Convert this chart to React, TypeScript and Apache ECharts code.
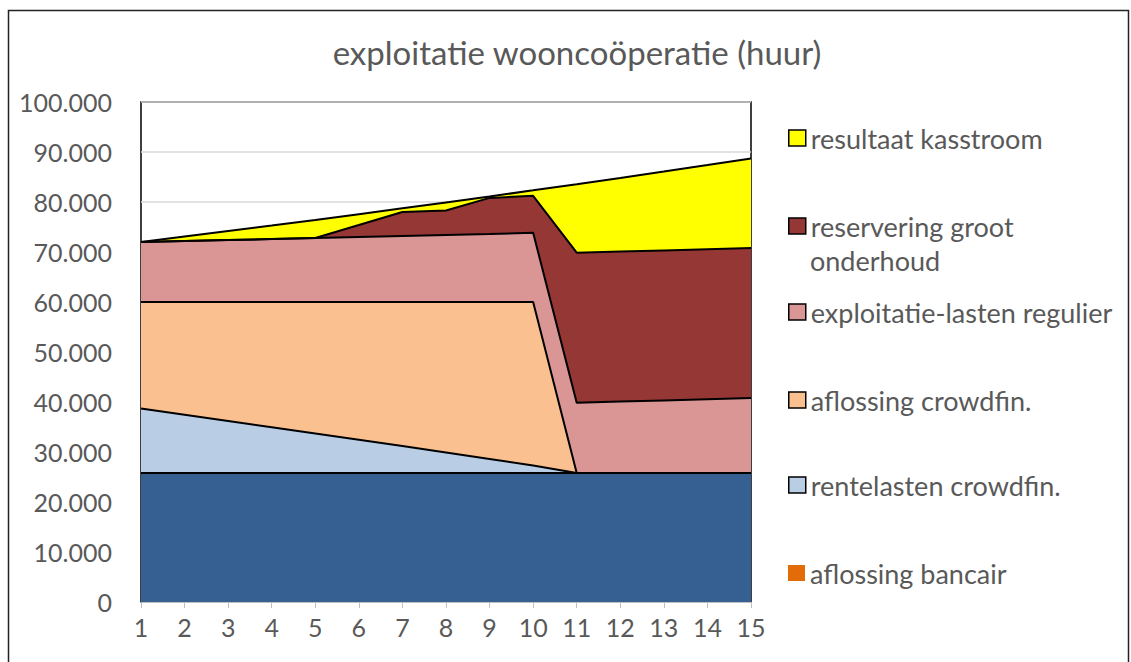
import React, { useEffect, useRef } from "react";
import * as echarts from "echarts";

const years = ["1", "2", "3", "4", "5", "6", "7", "8", "9", "10", "11", "12", "13", "14", "15"];
const yTicks = [0, 10000, 20000, 30000, 40000, 50000, 60000, 70000, 80000, 90000, 100000];

const rentelastenBancair = [25800, 25800, 25800, 25800, 25800, 25800, 25800, 25800, 25800, 25800, 25800, 25800, 25800, 25800, 25800];
const aflossingBancair = [0, 0, 0, 0, 0, 0, 0, 0, 0, 0, 0, 0, 0, 0, 0];
const rentelastenCrowdfin = [12900, 11650, 10400, 9150, 7900, 6650, 5400, 4100, 2800, 1500, 0, 0, 0, 0, 0];
const aflossingCrowdfin = [21300, 22550, 23800, 25050, 26300, 27550, 28800, 30100, 31400, 32700, 0, 0, 0, 0, 0];
const exploitatieLasten = [12000, 12190, 12390, 12590, 12790, 12990, 13200, 13410, 13620, 13840, 14060, 14280, 14510, 14740, 14980];
const reserveringOnderhoud = [0, 0, 0, 0, 0, 2400, 4800, 4900, 7200, 7400, 30000, 30000, 30000, 30000, 30000];
const resultaatKasstroom = [0, 890, 1790, 2700, 3630, 2180, 730, 1600, 290, 1090, 13700, 14730, 15780, 16840, 17910];

const FONT = "Lato";
const GREY = "#595959";
const LEGEND_FS = 27;

type S = { name: string; data: number[]; color: string; border: boolean };
const seriesDefs: S[] = [
  { name: "aflossing bancair", data: aflossingBancair, color: "#E36C09", border: false },
  { name: "rentelasten bancair", data: rentelastenBancair, color: "#376092", border: true },
  { name: "rentelasten crowdfin.", data: rentelastenCrowdfin, color: "#B9CDE5", border: true },
  { name: "aflossing crowdfin.", data: aflossingCrowdfin, color: "#FAC090", border: true },
  { name: "exploitatie-lasten regulier", data: exploitatieLasten, color: "#D99694", border: true },
  { name: "reservering groot onderhoud", data: reserveringOnderhoud, color: "#953735", border: true },
  { name: "resultaat kasstroom", data: resultaatKasstroom, color: "#FFFF00", border: true },
];

const legendItems = [
  { name: "resultaat kasstroom", center: 138 },
  { name: "reservering groot onderhoud", center: 226 },
  { name: "exploitatie-lasten regulier", center: 312 },
  { name: "aflossing crowdfin.", center: 400 },
  { name: "rentelasten crowdfin.", center: 485 },
  { name: "aflossing bancair", center: 573 },
];

function fmt(v: number) {
  if (v === 0) return "0";
  const s = String(Math.round(v));
  return s.replace(/\B(?=(\d{3})+(?!\d))/g, ".");
}

export default function App() {
  const ref = useRef<HTMLDivElement>(null);
  useEffect(() => {
    if (!ref.current) return;
    const chart = echarts.init(ref.current, undefined, { renderer: "svg" });
    const legends = legendItems.map((it) => {
      const two = it.name === "reservering groot onderhoud";
      const hasBorder = it.name !== "aflossing bancair";
      return {
        show: true,
        orient: "vertical",
        left: 788,
        top: it.center - 13.5,
        padding: 0,
        icon: "rect",
        itemWidth: 17,
        itemHeight: 16,
        itemGap: 0,
        data: [it.name],
        selectedMode: false,
        itemStyle: hasBorder ? { borderColor: "#000", borderWidth: 1.5 } : { borderWidth: 0 },
        formatter: (n: string) => (two ? "reservering groot" : n),
        textStyle: {
          fontFamily: FONT,
          fontSize: LEGEND_FS,
          color: GREY,
          lineHeight: LEGEND_FS,
        },
      };
    });
    chart.setOption({
      animation: false,
      backgroundColor: "#fff",
      title: {
        text: "exploitatie wooncoöperatie (huur)",
        left: 572,
        top: 30,
        textAlign: "center",
        textStyle: { fontFamily: FONT, fontSize: 33, fontWeight: "normal", color: GREY },
      },
      legend: legends,
      graphic: [
        {
          type: "rect",
          shape: { x: 8.5, y: 10.5, width: 1120, height: 720 },
          style: { fill: "none", stroke: "#222", lineWidth: 1.5 },
          z: 100,
          silent: true,
        },
        {
          type: "text",
          x: 810,
          y: 260,
          style: {
            text: "onderhoud",
            fontFamily: FONT,
            fontSize: LEGEND_FS,
            fill: GREY,
            verticalAlign: "middle",
            align: "left",
          },
          silent: true,
        },
      ],
      grid: {
        left: 141,
        right: 380,
        top: 102,
        bottom: 60,
        show: true,
        borderColor: "#000",
        borderWidth: 1.5,
        backgroundColor: "transparent",
      },
      xAxis: {
        type: "category",
        data: years,
        boundaryGap: false,
        axisLine: { show: true, lineStyle: { color: "#BFBFBF", width: 1 } },
        axisTick: { show: true, alignWithLabel: true, length: 6, lineStyle: { color: "#BFBFBF" } },
        axisLabel: { fontFamily: FONT, fontSize: 25, color: GREY, margin: 12 },
        z: 10,
      },
      yAxis: {
        type: "value",
        min: yTicks[0],
        max: yTicks[yTicks.length - 1],
        interval: yTicks[1] - yTicks[0],
        axisLine: { show: false },
        axisTick: { show: false },
        splitLine: { show: true, lineStyle: { color: "#D9D9D9", width: 1.5 } },
        axisLabel: { fontFamily: FONT, fontSize: 25, color: GREY, margin: 29, formatter: fmt },
      },
      series: seriesDefs.map((s) => ({
        name: s.name,
        type: "line",
        stack: "total",
        data: s.data,
        symbol: "none",
        itemStyle: { color: s.color },
        lineStyle: { color: "#000", width: s.border ? 2 : 0 },
        areaStyle: { color: s.color, opacity: 1 },
        emphasis: { disabled: true },
      })),
    });
    return () => chart.dispose();
  }, []);
  return <div ref={ref} style={{ position: "fixed", left: 0, top: 0, width: 1131, height: 662 }} />;
}
